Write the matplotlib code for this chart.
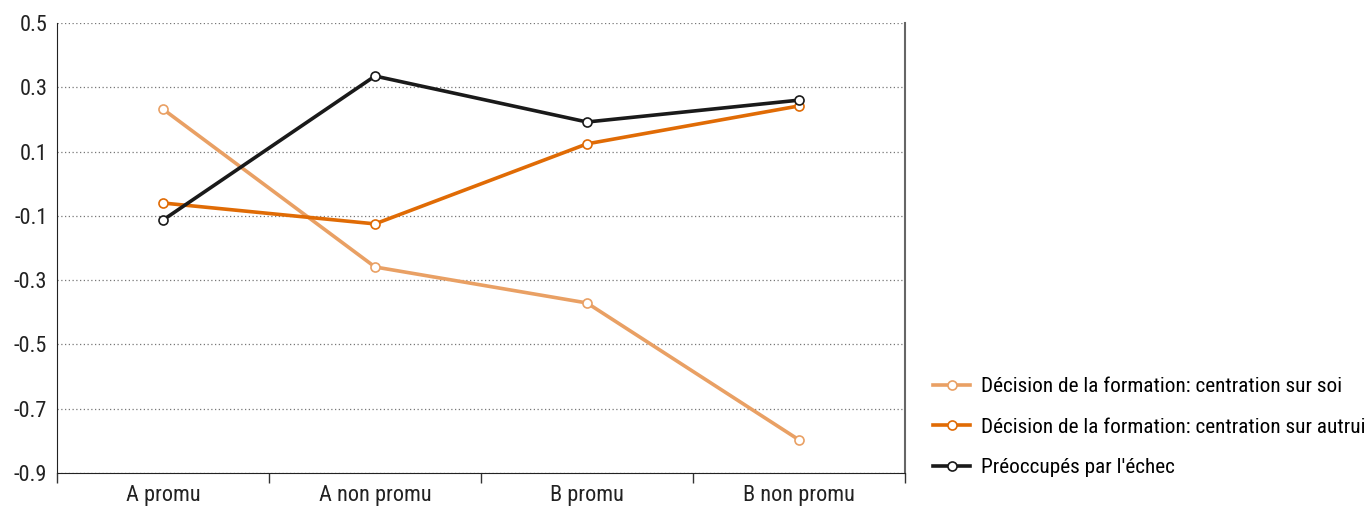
import numpy as np
import matplotlib
matplotlib.use("Agg")
import matplotlib.pyplot as plt

plt.rcParams['font.family'] = ['Roboto Condensed', 'DejaVu Sans']

categories = ['A promu', 'A non promu', 'B promu', 'B non promu']
soi = [0.232, -0.259, -0.371, -0.797]
autrui = [-0.06, -0.125, 0.124, 0.242]
echec = [-0.113, 0.335, 0.192, 0.26]

labels = ['Décision de la formation: centration sur soi',
          'Décision de la formation: centration sur autrui',
          "Préoccupés par l'échec"]
colors = ['#E9A064', '#E06B05', '#1A1A1A']

fig = plt.figure(figsize=(13.65, 5.08), dpi=100)
ax = fig.add_axes([57/1365, 35/508, (905-57)/1365, 450/508])

x = np.arange(len(categories))
for serie, lab, col in zip([soi, autrui, echec], labels, colors):
    ax.plot(x, serie, color=col, lw=2.6, marker='o', markersize=6.5,
            markerfacecolor='white', markeredgecolor=col, markeredgewidth=1.2,
            label=lab, zorder=3)

ax.set_xlim(-0.5, 3.5)
ax.set_ylim(-0.9, 0.5)
yt = np.arange(-0.9, 0.51, 0.2)
ax.set_yticks(yt)
ax.set_yticklabels([f'{v:.1f}' for v in yt], fontsize=16, color='#222222')
ax.tick_params(axis='y', length=0, pad=7)

ax.set_xticks(x)
ax.set_xticklabels(categories, fontsize=16, color='#222222')
ax.set_xticks(np.arange(-0.5, 3.6, 1), minor=True)
ax.tick_params(axis='x', which='major', length=0, pad=9)
ax.tick_params(axis='x', which='minor', length=7, width=1, color='#333333')

ax.grid(axis='y', linestyle=(0, (1, 2)), color='#777777', lw=0.9)
ax.set_axisbelow(True)
ax.spines['top'].set_visible(False)
ax.spines['left'].set_color('#222222')
ax.spines['bottom'].set_color('#222222')
ax.spines['right'].set_color('#666666')
ax.spines['right'].set_linewidth(1.5)

fig.legend(loc='upper left', bbox_to_anchor=(933/1365, 1 - 377/508),
           frameon=False, fontsize=15.3, handlelength=1.75, handletextpad=0.5,
           labelspacing=1.02, borderaxespad=0, borderpad=0)

fig.savefig('out.png', dpi=100)
